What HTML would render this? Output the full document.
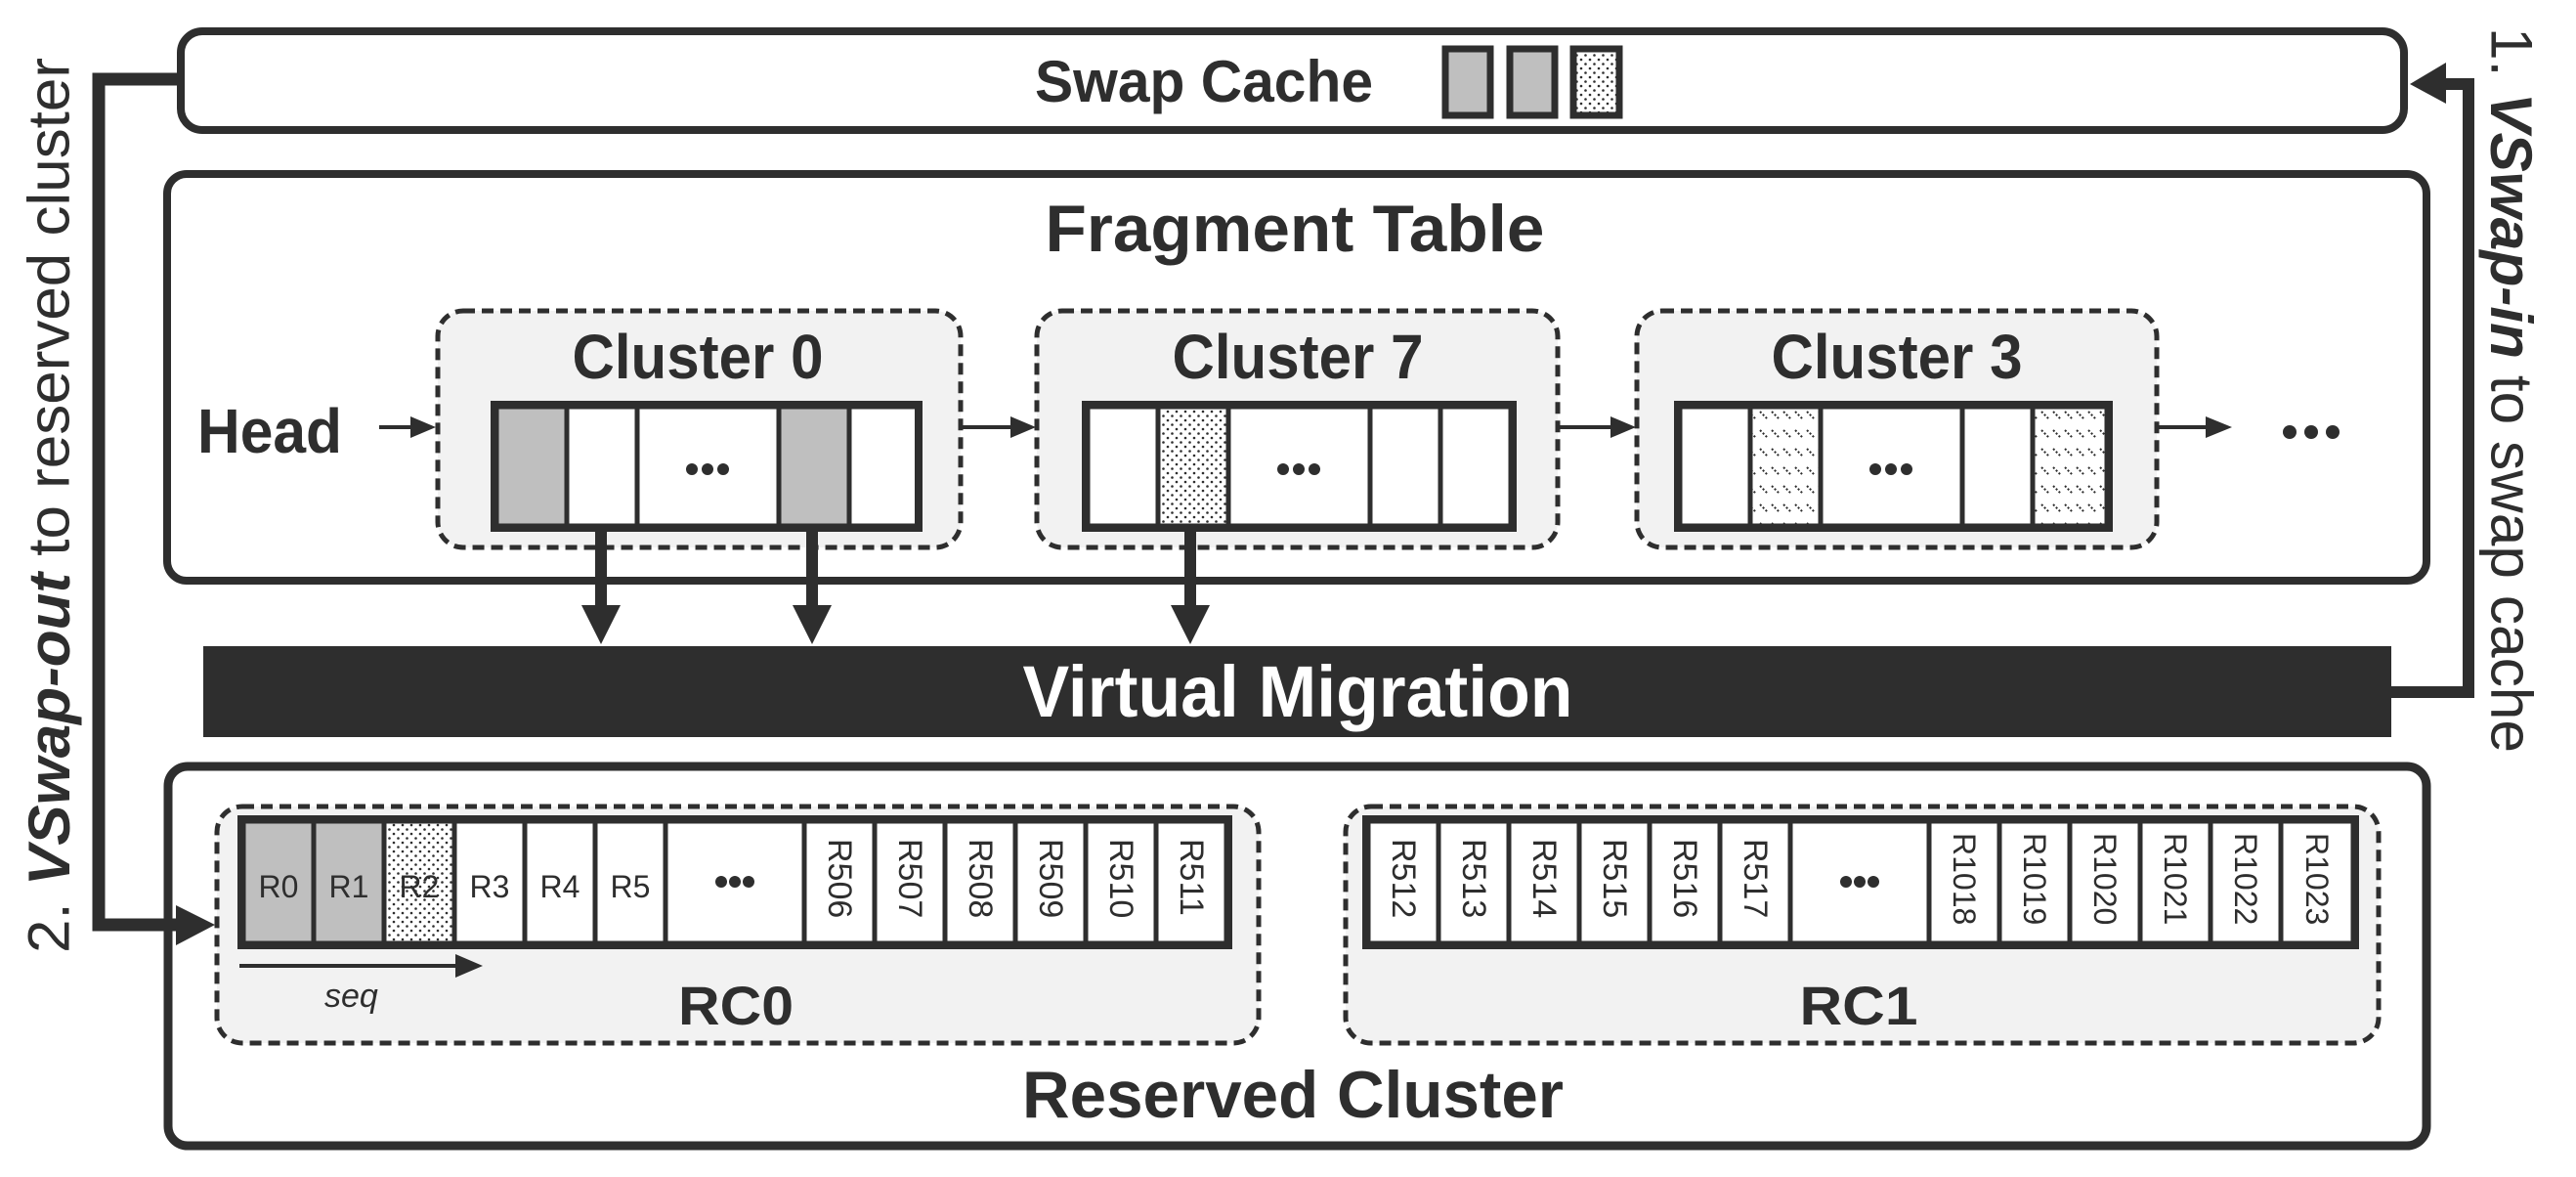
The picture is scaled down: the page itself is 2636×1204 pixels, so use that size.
<!DOCTYPE html>
<html><head><meta charset="utf-8"><style>
html,body{margin:0;padding:0;background:#fff;}
svg{display:block;}
text{font-family:"Liberation Sans",sans-serif;fill:#2e2e2e;}
</style></head><body>
<svg width="2636" height="1204" viewBox="0 0 2636 1204" xmlns="http://www.w3.org/2000/svg">
<defs>
<pattern id="dots" width="9" height="9" patternUnits="userSpaceOnUse">
<rect width="9" height="9" fill="#fff"/><circle cx="2.5" cy="2.5" r="1.3" fill="#2e2e2e"/><circle cx="7" cy="7" r="1.3" fill="#2e2e2e"/>
</pattern>
<pattern id="hatch" width="12" height="19" patternUnits="userSpaceOnUse">
<rect width="12" height="19" fill="#fff"/><path d="M1 3 L9 11" stroke="#2e2e2e" stroke-width="2" stroke-dasharray="2 2"/>
</pattern>
</defs>

<!-- Swap Cache -->
<rect x="185" y="32" width="2275" height="101" rx="22" fill="#fff" stroke="#2e2e2e" stroke-width="8"/>
<text x="1232" y="104" font-size="60" font-weight="bold" text-anchor="middle" textLength="346" lengthAdjust="spacingAndGlyphs">Swap Cache</text>
<rect x="1479" y="50" width="46" height="68" fill="#bfbfbf" stroke="#2e2e2e" stroke-width="7"/>
<rect x="1545" y="50" width="46" height="68" fill="#bfbfbf" stroke="#2e2e2e" stroke-width="7"/>
<rect x="1610" y="50" width="47" height="68" fill="url(#dots)" stroke="#2e2e2e" stroke-width="7"/>

<!-- Fragment Table -->
<rect x="171" y="178" width="2312" height="416" rx="20" fill="#fff" stroke="#2e2e2e" stroke-width="8"/>
<text x="1325" y="257" font-size="68" font-weight="bold" text-anchor="middle" textLength="511" lengthAdjust="spacingAndGlyphs">Fragment Table</text>

<g stroke="#2e2e2e" stroke-width="5" stroke-dasharray="12 7" fill="#f2f2f2">
<rect x="448" y="318" width="535" height="242" rx="26"/>
<rect x="1061" y="318" width="533" height="242" rx="26"/>
<rect x="1675" y="318" width="532" height="242" rx="26"/>
</g>
<text x="714" y="387" font-size="64" font-weight="bold" text-anchor="middle" textLength="257" lengthAdjust="spacingAndGlyphs">Cluster 0</text>
<text x="1328" y="387" font-size="64" font-weight="bold" text-anchor="middle" textLength="257" lengthAdjust="spacingAndGlyphs">Cluster 7</text>
<text x="1941" y="387" font-size="64" font-weight="bold" text-anchor="middle" textLength="257" lengthAdjust="spacingAndGlyphs">Cluster 3</text>

<g stroke="#2e2e2e" stroke-width="5">
<rect x="508" y="416" width="72" height="122" fill="#bfbfbf"/>
<rect x="580" y="416" width="72" height="122" fill="#fff"/>
<rect x="652" y="416" width="145" height="122" fill="#fff"/>
<rect x="797" y="416" width="72" height="122" fill="#bfbfbf"/>
<rect x="869" y="416" width="71" height="122" fill="#fff"/>
<rect x="1113" y="416" width="72" height="122" fill="#fff"/>
<rect x="1185" y="416" width="72" height="122" fill="url(#dots)"/>
<rect x="1257" y="416" width="145" height="122" fill="#fff"/>
<rect x="1402" y="416" width="72" height="122" fill="#fff"/>
<rect x="1474" y="416" width="72" height="122" fill="#fff"/>
<rect x="1719" y="416" width="72" height="122" fill="#fff"/>
<rect x="1791" y="416" width="72" height="122" fill="url(#hatch)"/>
<rect x="1863" y="416" width="145" height="122" fill="#fff"/>
<rect x="2008" y="416" width="72" height="122" fill="#fff"/>
<rect x="2080" y="416" width="76" height="122" fill="url(#hatch)"/>
</g>
<g fill="none" stroke="#2e2e2e" stroke-width="8">
<rect x="506" y="414" width="434" height="126"/>
<rect x="1111" y="414" width="437" height="126"/>
<rect x="1717" y="414" width="441" height="126"/>
</g>
<g fill="#2e2e2e">
<circle cx="708" cy="480" r="6"/><circle cx="724" cy="480" r="6"/><circle cx="740" cy="480" r="6"/>
<circle cx="1313" cy="480" r="6"/><circle cx="1329" cy="480" r="6"/><circle cx="1345" cy="480" r="6"/>
<circle cx="1919" cy="480" r="6"/><circle cx="1935" cy="480" r="6"/><circle cx="1951" cy="480" r="6"/>
<circle cx="2343" cy="442" r="7"/><circle cx="2365" cy="442" r="7"/><circle cx="2387" cy="442" r="7"/>
</g>

<text x="202" y="463" font-size="64" font-weight="bold" textLength="148" lengthAdjust="spacingAndGlyphs">Head</text>
<g stroke="#2e2e2e" stroke-width="4">
<line x1="388" y1="437" x2="425" y2="437"/>
<line x1="983" y1="437" x2="1035" y2="437"/>
<line x1="1594" y1="437" x2="1650" y2="437"/>
<line x1="2207" y1="437" x2="2260" y2="437"/>
</g>
<g fill="#2e2e2e">
<polygon points="420,426 446,437 420,448"/>
<polygon points="1034,426 1060,437 1034,448"/>
<polygon points="1648,426 1674,437 1648,448"/>
<polygon points="2257,426 2284,437 2257,448"/>
</g>

<g stroke="#2e2e2e" stroke-width="12">
<line x1="615" y1="538" x2="615" y2="625"/>
<line x1="831" y1="538" x2="831" y2="625"/>
<line x1="1218" y1="538" x2="1218" y2="625"/>
</g>
<g fill="#2e2e2e">
<polygon points="595,619 635,619 615,659"/>
<polygon points="811,619 851,619 831,659"/>
<polygon points="1198,619 1238,619 1218,659"/>
</g>

<rect x="208" y="661" width="2239" height="93" fill="#2e2e2e"/>
<text x="1328" y="733" font-size="74" font-weight="bold" text-anchor="middle" style="fill:#fff" textLength="563" lengthAdjust="spacingAndGlyphs">Virtual Migration</text>

<polyline points="2447,708 2526,708 2526,86 2495,86" fill="none" stroke="#2e2e2e" stroke-width="12"/>
<polygon points="2466,86 2503,64 2503,106" fill="#2e2e2e"/>
<text transform="translate(2570,28) rotate(90)" font-size="60" dominant-baseline="central" textLength="742" lengthAdjust="spacingAndGlyphs">1. <tspan font-weight="bold" font-style="italic">VSwap-in</tspan> to swap cache</text>

<!-- Reserved Cluster -->
<rect x="172" y="784" width="2311" height="388" rx="20" fill="#fff" stroke="#2e2e2e" stroke-width="9"/>
<text x="1323" y="1143" font-size="68" font-weight="bold" text-anchor="middle" textLength="554" lengthAdjust="spacingAndGlyphs">Reserved Cluster</text>
<g stroke="#2e2e2e" stroke-width="5" stroke-dasharray="12 7" fill="#f2f2f2">
<rect x="222" y="825" width="1066" height="242" rx="26"/>
<rect x="1377" y="825" width="1057" height="242" rx="26"/>
</g>
<text x="753" y="1048" font-size="56" font-weight="bold" text-anchor="middle" textLength="118" lengthAdjust="spacingAndGlyphs">RC0</text>
<text x="1902" y="1048" font-size="56" font-weight="bold" text-anchor="middle" textLength="121" lengthAdjust="spacingAndGlyphs">RC1</text>
<line x1="245" y1="988" x2="470" y2="988" stroke="#2e2e2e" stroke-width="4"/>
<polygon points="466,976 494,988 466,1000" fill="#2e2e2e"/>
<text x="332" y="1030" font-size="34" font-style="italic">seq</text>

<g stroke="#2e2e2e" stroke-width="5">
<rect x="249" y="840" width="72" height="125" fill="#bfbfbf"/>
<rect x="321" y="840" width="72" height="125" fill="#bfbfbf"/>
<rect x="393" y="840" width="72" height="125" fill="url(#dots)"/>
<rect x="465" y="840" width="72" height="125" fill="#fff"/>
<rect x="537" y="840" width="72" height="125" fill="#fff"/>
<rect x="609" y="840" width="72" height="125" fill="#fff"/>
<rect x="681" y="840" width="142" height="125" fill="#fff"/>
<rect x="823" y="840" width="72" height="125" fill="#fff"/>
<rect x="895" y="840" width="72" height="125" fill="#fff"/>
<rect x="967" y="840" width="72" height="125" fill="#fff"/>
<rect x="1039" y="840" width="72" height="125" fill="#fff"/>
<rect x="1111" y="840" width="72" height="125" fill="#fff"/>
<rect x="1183" y="840" width="72" height="125" fill="#fff"/>
<rect x="1400" y="840" width="72" height="125" fill="#fff"/>
<rect x="1472" y="840" width="72" height="125" fill="#fff"/>
<rect x="1544" y="840" width="72" height="125" fill="#fff"/>
<rect x="1616" y="840" width="72" height="125" fill="#fff"/>
<rect x="1688" y="840" width="72" height="125" fill="#fff"/>
<rect x="1760" y="840" width="72" height="125" fill="#fff"/>
<rect x="1832" y="840" width="142" height="125" fill="#fff"/>
<rect x="1974" y="840" width="72" height="125" fill="#fff"/>
<rect x="2046" y="840" width="72" height="125" fill="#fff"/>
<rect x="2118" y="840" width="72" height="125" fill="#fff"/>
<rect x="2190" y="840" width="72" height="125" fill="#fff"/>
<rect x="2262" y="840" width="72" height="125" fill="#fff"/>
<rect x="2334" y="840" width="74" height="125" fill="#fff"/>
</g>
<g fill="none" stroke="#2e2e2e" stroke-width="8">
<rect x="247" y="838" width="1010" height="129"/>
<rect x="1398" y="838" width="1012" height="129"/>
</g>
<g font-size="32" text-anchor="middle">
<text x="285" y="918">R0</text><text x="357" y="918">R1</text><text x="429" y="918">R2</text>
<text x="501" y="918">R3</text><text x="573" y="918">R4</text><text x="645" y="918">R5</text>
</g>
<g fill="#2e2e2e">
<circle cx="738" cy="902" r="6"/><circle cx="752" cy="902" r="6"/><circle cx="766" cy="902" r="6"/>
<circle cx="1889" cy="902" r="6"/><circle cx="1903" cy="902" r="6"/><circle cx="1917" cy="902" r="6"/>
</g>
<g font-size="34" dominant-baseline="central">
<text transform="translate(859,858) rotate(90)">R506</text>
<text transform="translate(931,858) rotate(90)">R507</text>
<text transform="translate(1003,858) rotate(90)">R508</text>
<text transform="translate(1075,858) rotate(90)">R509</text>
<text transform="translate(1147,858) rotate(90)">R510</text>
<text transform="translate(1219,858) rotate(90)">R511</text>
<text transform="translate(1436,858) rotate(90)">R512</text>
<text transform="translate(1508,858) rotate(90)">R513</text>
<text transform="translate(1580,858) rotate(90)">R514</text>
<text transform="translate(1652,858) rotate(90)">R515</text>
<text transform="translate(1724,858) rotate(90)">R516</text>
<text transform="translate(1796,858) rotate(90)">R517</text>
</g>
<g font-size="32" dominant-baseline="central">
<text transform="translate(2010,852) rotate(90)">R1018</text>
<text transform="translate(2082,852) rotate(90)">R1019</text>
<text transform="translate(2154,852) rotate(90)">R1020</text>
<text transform="translate(2226,852) rotate(90)">R1021</text>
<text transform="translate(2298,852) rotate(90)">R1022</text>
<text transform="translate(2371,852) rotate(90)">R1023</text>
</g>

<!-- left connector (drawn last so it sits over the reserved box) -->
<polyline points="185,81 101,81 101,946 190,946" fill="none" stroke="#2e2e2e" stroke-width="13"/>
<polygon points="220,946 180,926 180,967" fill="#2e2e2e"/>
<text transform="translate(50,975) rotate(-90)" font-size="60" dominant-baseline="central" textLength="916" lengthAdjust="spacingAndGlyphs">2. <tspan font-weight="bold" font-style="italic">VSwap-out</tspan> to reserved cluster</text>
</svg>
</body></html>
